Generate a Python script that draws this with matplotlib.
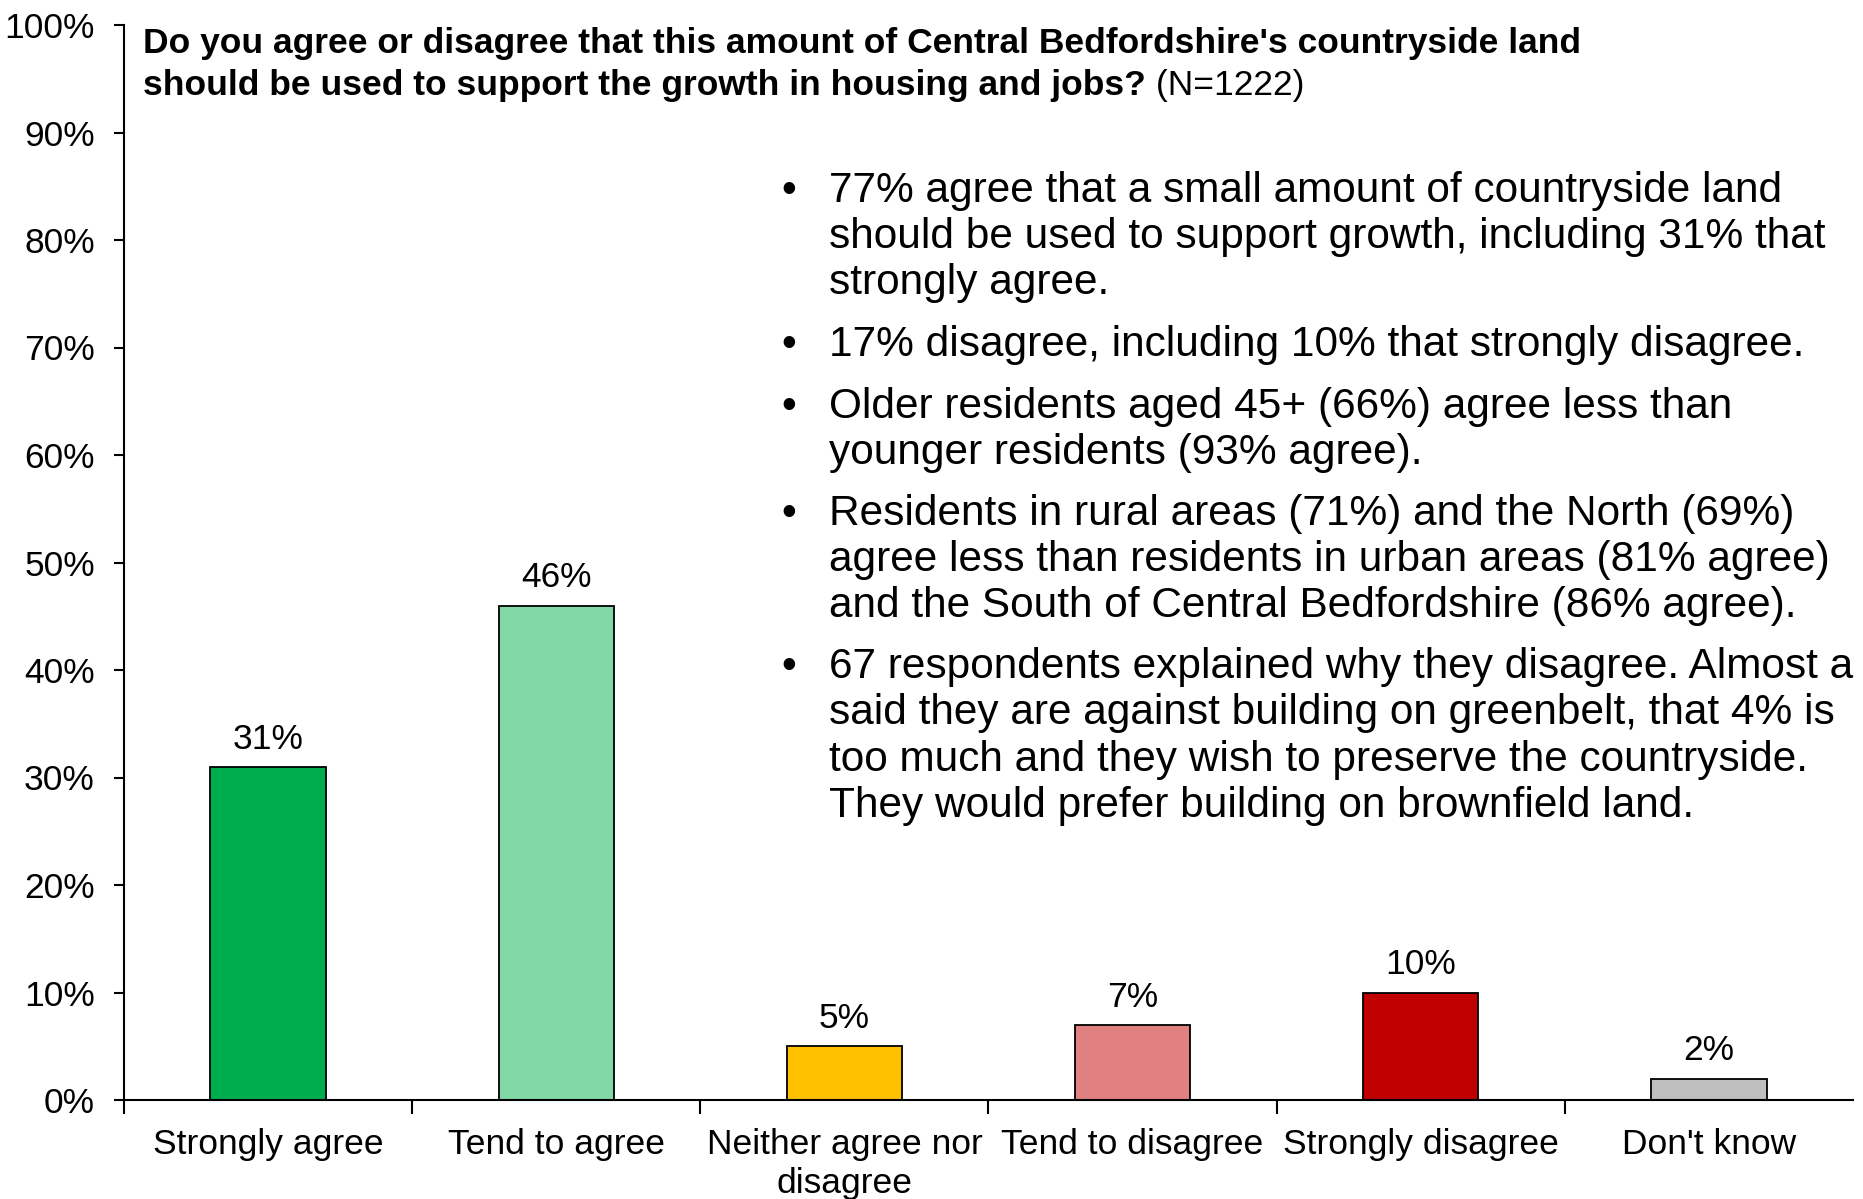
import numpy as np
import matplotlib
matplotlib.use("Agg")
import matplotlib.pyplot as plt

categories = ["Strongly agree", "Tend to agree", "Neither agree nor\ndisagree",
              "Tend to disagree", "Strongly disagree", "Don't know"]
values = [31, 46, 5, 7, 10, 2]
colors = ["#00AD4E", "#82D8A7", "#FFC000", "#E08080", "#C00000", "#BFBFBF"]
yticks = list(range(0, 101, 10))

title_1 = "Do you agree or disagree that this amount of Central Bedfordshire's countryside land"
title_2 = "should be used to support the growth in housing and jobs?"
title_n = " (N=1222)"

bullets = [
    ["77% agree that a small amount of countryside land",
     "should be used to support growth, including 31% that",
     "strongly agree."],
    ["17% disagree, including 10% that strongly disagree."],
    ["Older residents aged 45+ (66%) agree less than",
     "younger residents (93% agree)."],
    ["Residents in rural areas (71%) and the North (69%)",
     "agree less than residents in urban areas (81% agree)",
     "and the South of Central Bedfordshire (86% agree)."],
    ["67 respondents explained why they disagree. Almost a",
     "said they are against building on greenbelt, that 4% is",
     "too much and they wish to preserve the countryside.",
     "They would prefer building on brownfield land."],
]

plt.rcParams["font.family"] = ["Liberation Sans", "DejaVu Sans"]
fs = 25.5
bfs = 30.5
tfs = 25.5

W, H = 1863, 1199
fig = plt.figure(figsize=(W / 100, H / 100), dpi=100)
ax = fig.add_axes([124 / W, 1 - 1100 / H, (1853 - 124) / W, (1100 - 25) / H])

x = np.arange(len(categories))
bars = ax.bar(x, values, width=0.4, color=colors, edgecolor="black", linewidth=1.3, zorder=2)
for b, v in zip(bars, values):
    ax.annotate(f"{v}%", (b.get_x() + b.get_width() / 2, v), xytext=(0, 8),
                textcoords="offset points", ha="center", va="bottom", fontsize=fs)

ax.set_xlim(-0.5, len(categories) - 0.5)
ax.set_ylim(0, 100)
ax.set_yticks(yticks)
ax.set_yticklabels([f"{t}%" for t in yticks], fontsize=fs)
ax.set_xticks(x)
ax.set_xticklabels(categories, fontsize=fs, linespacing=1.2)
ax.set_xticks(np.arange(len(categories)) - 0.5, minor=True)
ax.tick_params(axis="x", which="major", length=0, pad=20.5)
ax.tick_params(axis="x", which="minor", length=10, width=1.5, direction="out")
ax.tick_params(axis="y", length=7, width=1.5, pad=14)
for s in ["top", "right"]:
    ax.spines[s].set_visible(False)
for s in ["left", "bottom"]:
    ax.spines[s].set_linewidth(1.5)

# title, bold with the N in regular weight
fig.text(143 / W, 1 - 53 / H, title_1, fontsize=tfs, fontweight="bold", va="baseline")
t2 = fig.text(143 / W, 1 - 95 / H, title_2, fontsize=tfs, fontweight="bold", va="baseline")
ax.annotate(title_n, xy=(1, 0), xycoords=t2, va="bottom", fontsize=tfs)

# bullet notes, one text per line
first_centers = [186.5, 341.0, 402.7, 509.7, 662.9]
step = 46.3
cap = bfs * 100 / 72 * 0.716
for c0, lines in zip(first_centers, bullets):
    fig.text(789 / W, 1 - (c0 + cap / 2) / H, "\u2022", fontsize=bfs, ha="center", va="baseline")
    for k, line in enumerate(lines):
        yb = c0 + k * step + cap / 2
        fig.text(829 / W, 1 - yb / H, line, fontsize=bfs, va="baseline")

fig.savefig("out.png", dpi=100)
